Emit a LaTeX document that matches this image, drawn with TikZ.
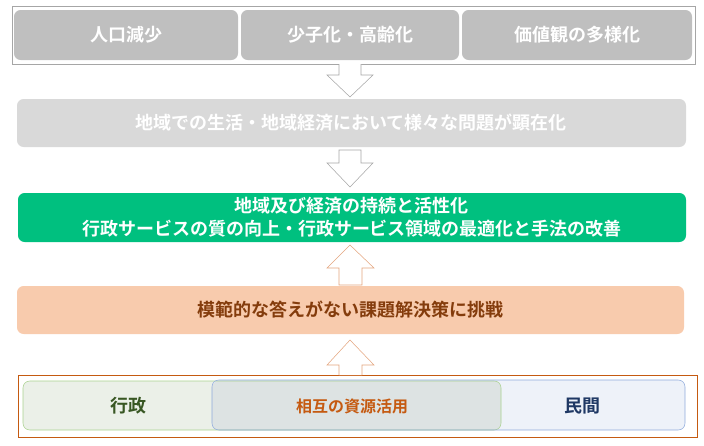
\documentclass[tikz,border=0pt]{standalone}
\usepackage{fontspec}
\setmainfont{Noto Sans CJK JP}[BoldFont={Noto Sans CJK JP Bold}]
\usepackage{tikz}
\definecolor{causegray}{HTML}{BFBFBF}
\definecolor{issuegray}{HTML}{D9D9D9}
\definecolor{goalgreen}{HTML}{00C07F}
\definecolor{peach}{HTML}{F8CBAD}
\definecolor{darkbrown}{HTML}{843C0C}
\definecolor{rust}{HTML}{C55A11}
\definecolor{arroworange}{HTML}{E4A57E}
\definecolor{govfill}{HTML}{EBF0E8}
\definecolor{govline}{HTML}{A9D18E}
\definecolor{govtext}{HTML}{385723}
\definecolor{privfill}{HTML}{EEF2F9}
\definecolor{privline}{HTML}{8FAADC}
\definecolor{privtext}{HTML}{1F3864}
\definecolor{mixfill}{HTML}{DDE3E3}
\tikzset{
  band/.style={rounded corners=5pt},
  label/.style={font=\bfseries\fontsize{13.5}{17}\selectfont},
}
\begin{document}
\begin{tikzpicture}[x=0.75pt,y=-0.75pt]
\useasboundingbox (0,0) rectangle (704,446);
% causes
\draw [gray!70] (12,6) rectangle (695,64);
\fill [causegray,band] (14,10) rectangle (238,60);
\fill [causegray,band] (241,10) rectangle (459,60);
\fill [causegray,band] (462,10) rectangle (692,60);
\node [label,white] (c1) at (126,35) {人口減少};
\node [label,white] (c2) at (350,35) {少子化・高齢化};
\node [label,white] (c3) at (577,35) {価値観の多様化};
\draw [gray!70,fill=white] (339,64) -- (339,75) -- (327,75) -- (350,97) -- (373,75) -- (361,75) -- (361,64);
% issue
\fill [issuegray,band] (17,99) rectangle (686,147);
\node [label,white] (issue) at (351,123) {地域での生活・地域経済において様々な問題が顕在化};
\draw [gray!70,fill=white] (339,150) -- (339,163) -- (327,163) -- (350,187) -- (373,163) -- (361,163) -- (361,150) -- cycle;
% goal
\fill [goalgreen,band] (18,193) rectangle (686,242);
\node [label,white,align=center] (goal) at (352,217) {地域及び経済の持続と活性化\\行政サービスの質の向上・行政サービス領域の最適化と手法の改善};
\draw [arroworange,fill=white] (339,285) -- (339,268) -- (327,268) -- (350,245) -- (374,268) -- (362,268) -- (362,285) -- cycle;
% challenge
\fill [peach,band] (17,286) rectangle (684,334);
\node [label,darkbrown] (challenge) at (350,310) {模範的な答えがない課題解決策に挑戦};
% partners
\draw [rust] (18,375) rectangle (697,437);
\draw [arroworange,fill=white] (339,375) -- (339,365) -- (327,365) -- (350,340) -- (374,365) -- (362,365) -- (362,375);
\fill [govfill,band] (23,381) rectangle (501,430);
\fill [privfill,band] (212,380) rectangle (685,430);
\fill [mixfill,band] (212,381) rectangle (501,430);
\draw [govline,band] (23,381) rectangle (501,430);
\draw [privline,band] (212,380) rectangle (685,430);
\node [label,govtext] (gov) at (128,406) {行政};
\node [label,rust,font=\bfseries\fontsize{12}{14}\selectfont] (mutual) at (352,406) {相互の資源活用};
\node [label,privtext] (priv) at (582,406) {民間};
\end{tikzpicture}
\end{document}
